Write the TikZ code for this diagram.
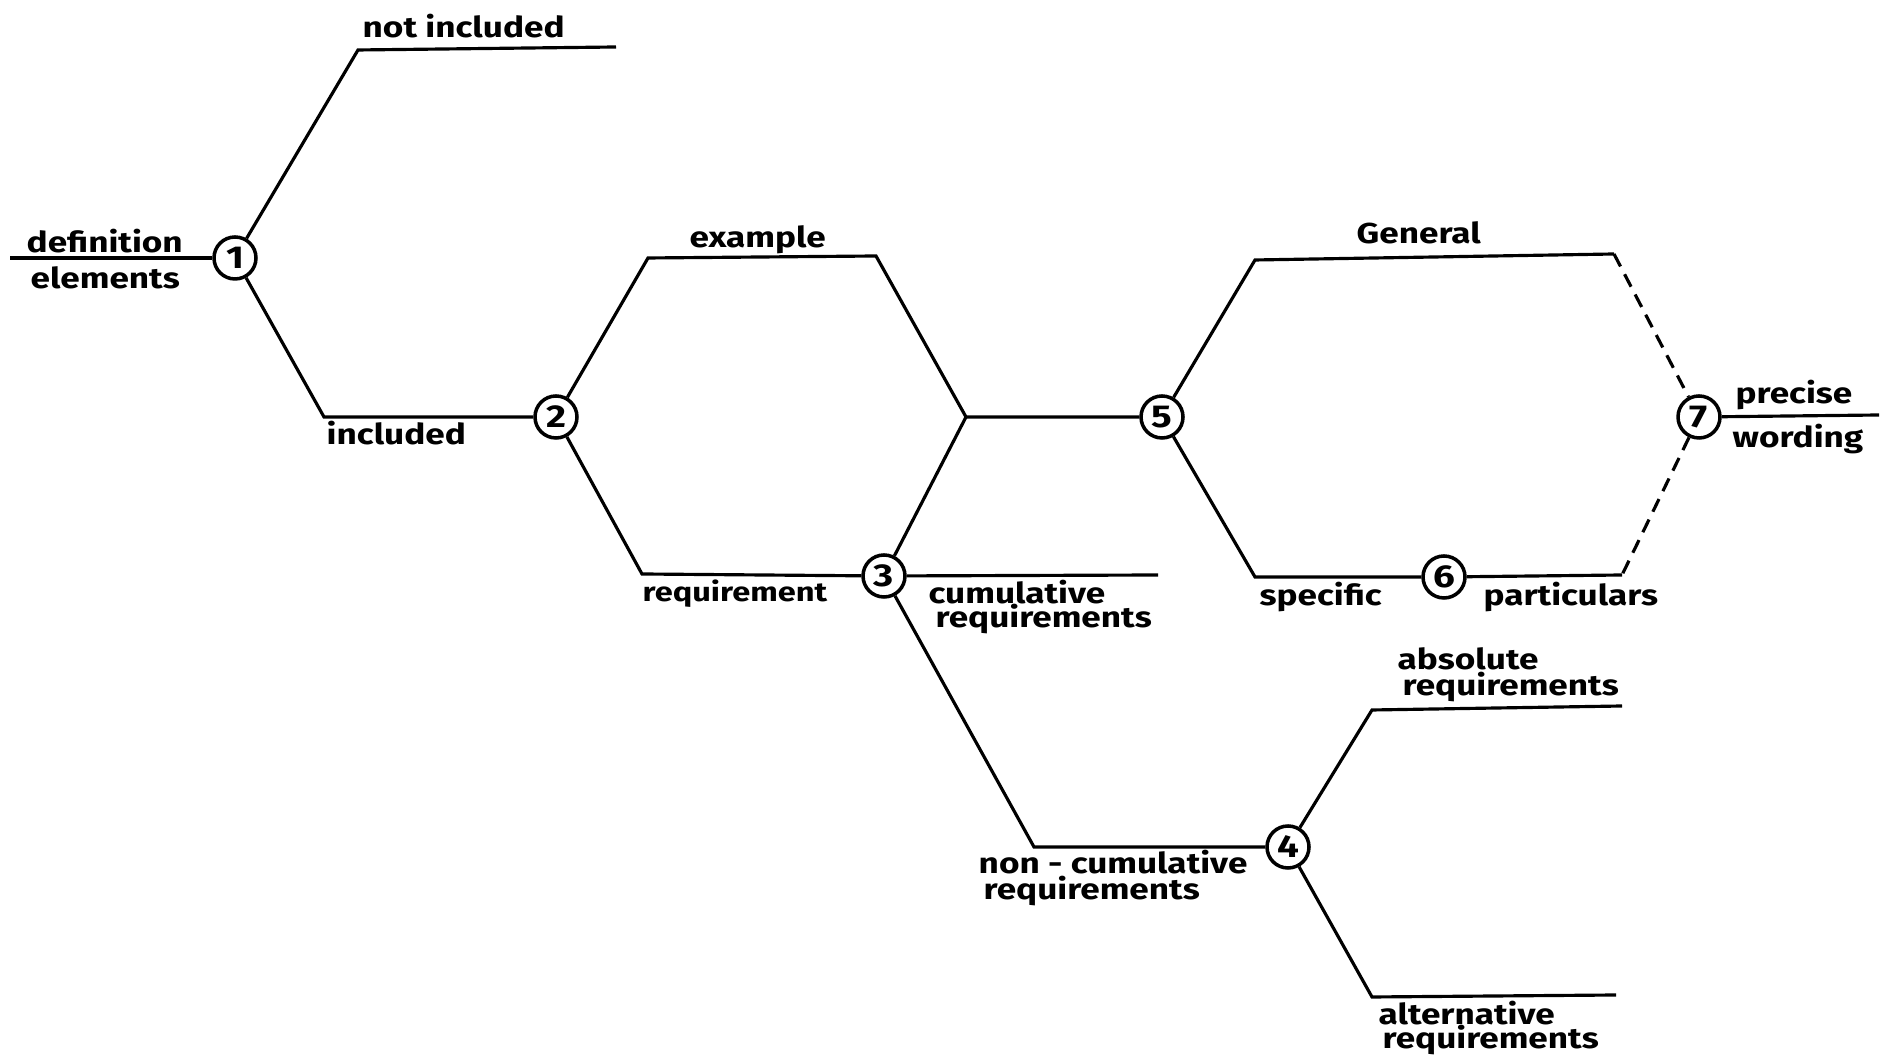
\documentclass[tikz,border=0pt]{standalone}
\usepackage{fontspec}
\setmainfont{Fira Sans}[FakeStretch=1.22]
\begin{document}
\begin{tikzpicture}[
  branch/.style={line width=0.9pt},
  knot/.style={draw, circle, line width=1pt, minimum size=0.42cm, inner sep=0pt, font=\bfseries\fontsize{9}{9}\selectfont},
  word/.style={anchor=base west, inner sep=0pt, font=\bfseries\fontsize{8.2}{9}\selectfont}
]
\useasboundingbox (0,0) rectangle (18.82,10.57);

% the seven decision points
\node[knot] (k1) at (2.35, 7.99) {1};
\node[knot] (k2) at (5.56, 6.40) {2};
\node[knot] (k3) at (8.84, 4.81) {3};
\node[knot] (k4) at (12.88, 2.10) {4};
\node[knot] (k5) at (11.62, 6.40) {5};
\node[knot] (k6) at (14.44, 4.80) {6};
\node[knot] (k7) at (16.99, 6.40) {7};

% corners and free ends of the branches
\coordinate (defStart) at (0.10, 7.99);
\coordinate (notinA) at (3.58, 10.07);
\coordinate (notinB) at (6.16, 10.10);
\coordinate (inclA) at (3.24, 6.40);
\coordinate (exA) at (6.48, 7.99);
\coordinate (exB) at (8.76, 8.01);
\coordinate (merge) at (9.66, 6.40);
\coordinate (reqA) at (6.42, 4.83);
\coordinate (cumB) at (11.58, 4.82);
\coordinate (ncA) at (10.34, 2.10);
\coordinate (absA) at (13.72, 3.47);
\coordinate (absB) at (16.22, 3.51);
\coordinate (altA) at (13.72, 0.60);
\coordinate (altB) at (16.16, 0.62);
\coordinate (genA) at (12.55, 7.97);
\coordinate (genB) at (16.14, 8.03);
\coordinate (specA) at (12.55, 4.80);
\coordinate (partB) at (16.22, 4.82);
\coordinate (wordB) at (18.79, 6.42);

% branches
\draw[branch] (defStart) -- (k1);
\draw[branch] (k1) -- (notinA) -- (notinB);
\draw[branch] (k1) -- (inclA) -- (k2);
\draw[branch] (k2) -- (exA) -- (exB) -- (merge) -- (k5);
\draw[branch] (k2) -- (reqA) -- (k3);
\draw[branch] (k3) -- (merge);
\draw[branch] (k3) -- (cumB);
\draw[branch] (k3) -- (ncA) -- (k4);
\draw[branch] (k4) -- (absA) -- (absB);
\draw[branch] (k4) -- (altA) -- (altB);
\draw[branch] (k5) -- (genA) -- (genB);
\draw[branch] (k5) -- (specA) -- (k6);
\draw[branch] (k6) -- (partB);
\draw[branch, dash pattern=on 4pt off 2.5pt] (genB) -- (k7) -- (partB);
\draw[branch] (k7) -- (wordB);

% labels (base west of each line of text)
\node[word] (notincl) at (3.62, 10.19) {not included};
\node[word] (def1) at (0.26, 8.04) {definition};
\node[word] (def2) at (0.30, 7.68) {elements};
\node[word] (incl) at (3.26, 6.12) {included};
\node[word] (exmp) at (6.89, 8.09) {example};
\node[word, font=\bfseries\fontsize{7.6}{9}\selectfont] (req) at (6.42, 4.55) {requirement};
\node[word] (cum1) at (9.28, 4.53) {cumulative};
\node[word] (cum2) at (9.35, 4.29) {requirements};
\node[word] (nc1) at (9.78, 1.83) {non - cumulative};
\node[word] (nc2) at (9.83, 1.57) {requirements};
\node[word] (abs1) at (13.97, 3.87) {absolute};
\node[word] (abs2) at (14.02, 3.61) {requirements};
\node[word] (alt1) at (13.78, 0.32) {alternative};
\node[word] (alt2) at (13.82, 0.08) {requirements};
\node[word] (gen) at (13.56, 8.13) {General};
\node[word] (spec) at (12.59, 4.51) {specific};
\node[word] (part) at (14.83, 4.51) {particulars};
\node[word] (prec) at (17.35, 6.53) {precise};
\node[word] (wrd) at (17.32, 6.09) {wording};
\end{tikzpicture}
\end{document}
